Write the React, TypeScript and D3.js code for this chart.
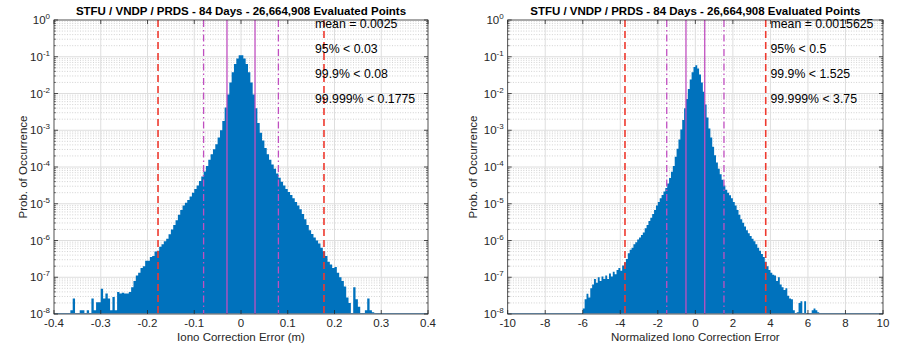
import * as d3 from 'd3';

const titleText = 'STFU / VNDP / PRDS - 84 Days - 26,664,908 Evaluated Points';
const yLabelText = 'Prob. of Occurrence';
const yTickExponents = [0, -1, -2, -3, -4, -5, -6, -7, -8];

// left panel: iono correction error in metres
const errTicks = [-0.4, -0.3, -0.2, -0.1, 0, 0.1, 0.2, 0.3, 0.4];
const errTickLabels = ['-0.4', '-0.3', '-0.2', '-0.1', '0', '0.1', '0.2', '0.3', '0.4'];
const errBinStart = -0.365;
const errBinWidth = 0.005;
// log10 of probability per bin, null = empty bin
const errLogProb: (number | null)[] = [
  -7.9, -7.58, null, null, -7.9, -7.9, null, -7.9, null, -7.58,
  -7.9, -7.68, -7.68, -7.31, -7.58, -7.44, -7.58, -7.9, -7.54, -7.9,
  -7.4, -7.44, -7.42, -7.44, -7.44, -7.4, -7.27, -7.1, -6.95, -6.88,
  -6.75, -6.7, -6.55, -6.55, -6.45, -6.42, -6.3, -6.28, -6.17, -6.1,
  -6.02, -5.95, -5.83, -5.7, -5.58, -5.45, -5.3, -5.17, -5.05, -4.97,
  -4.9, -4.8, -4.7, -4.6, -4.5, -4.38, -4.26, -4.12, -3.97, -3.8,
  -3.65, -3.52, -3.38, -3.2, -3.0, -2.75, -2.38, -2.03, -1.7, -1.42,
  -1.2, -1.05, -0.96,
  -0.96, -1.05, -1.2, -1.42, -1.7, -2.03, -2.4, -2.8, -3.07, -3.28,
  -3.48, -3.65, -3.8, -3.93, -4.05, -4.18, -4.29, -4.4, -4.5, -4.6,
  -4.68, -4.76, -4.85, -4.95, -5.05, -5.15, -5.28, -5.42, -5.58, -5.72,
  -5.82, -5.92, -6.0, -6.08, -6.2, -6.3, -6.42, -6.58, -6.65, -6.75,
  -6.72, -6.88, -7.0, -7.1, -7.25, -7.55, -7.7, null, -7.27, -7.6,
  -7.8, null, null, -7.9, -7.58, -7.9, -7.95,
];
const errSolid = [-0.03, 0.03];
const errDashDot = [-0.08, 0.08];
const errDashed = [-0.1775, 0.1775];
const errNotes = ['mean = 0.0025', '95% < 0.03', '99.9% < 0.08', '99.999% < 0.1775'];

// right panel: normalized error
const normTicks = [-10, -8, -6, -4, -2, 0, 2, 4, 6, 8, 10];
const normTickLabels = ['-10', '-8', '-6', '-4', '-2', '0', '2', '4', '6', '8', '10'];
const normBinStart = -6.0;
const normBinWidth = 0.1;
const normLogProb: (number | null)[] = [
  -7.85, -7.6, -7.45, -7.55, -7.3, -7.2, -7.05, -7.15, -7.0, -7.1,
  -6.98, -7.05, -6.95, -7.05, -6.9, -6.98, -6.85, -6.92, -6.8, -6.75,
  -6.82, -6.68, -6.6, -6.5, -6.35, -6.25, -6.2, -6.1, -6.05, -5.97,
  -5.92, -5.85, -5.78, -5.67, -5.58, -5.47, -5.38, -5.28, -5.17, -5.05,
  -4.95, -4.85, -4.76, -4.67, -4.57, -4.45, -4.3, -4.13, -3.97, -3.72,
  -3.5, -3.25, -2.98, -2.72, -2.4, -2.15, -1.88, -1.62, -1.42, -1.28,
  -1.23, -1.32, -1.48, -1.7, -1.95, -2.3, -2.65, -2.95, -3.2, -3.45,
  -3.68, -3.88, -4.05, -4.2, -4.35, -4.5, -4.62, -4.7, -4.77, -4.85,
  -4.95, -5.05, -5.17, -5.3, -5.42, -5.52, -5.62, -5.72, -5.8, -5.88,
  -5.95, -6.02, -6.1, -6.2, -6.28, -6.37, -6.45, -6.58, -6.7, -6.8,
  -6.88, -6.93, -6.95, -7.1, -7.0, -7.2, -7.27, -7.35, -7.3, -7.5,
  -7.58, -7.6, -7.9, null, -7.95, -7.7, -7.65, null, -7.65, null,
  null, null, -7.9, -7.85, -7.9, -7.95,
];
const normSolid = [-0.5, 0.5];
const normDashDot = [-1.525, 1.525];
const normDashed = [-3.75, 3.75];
const normNotes = ['mean = 0.0015625', '95% < 0.5', '99.9% < 1.525', '99.999% < 3.75'];

const FONT = '"Liberation Sans", Arial, Helvetica, sans-serif';
const AXIS = '#262626';
const BAR = '#0072BD';
const RED = '#ee3a2f';
const MAG = '#c04fc0';

interface PanelProps {
  x0: number;
  x1: number;
  domain: [number, number];
  ticks: number[];
  tickLabels: string[];
  binStart: number;
  binWidth: number;
  logProb: (number | null)[];
  solid: number[];
  dashDot: number[];
  dashed: number[];
  notes: string[];
  notesX: number;
  xLabel: string;
  yLabelX: number;
  clipId: string;
}

function Panel(props: PanelProps) {
  const { x0, x1, domain, ticks, tickLabels, binStart, binWidth, logProb, solid, dashDot, dashed, notes, notesX, xLabel, yLabelX, clipId } = props;
  const y0 = 20;
  const y1 = 314;
  const x = d3.scaleLinear().domain(domain).range([x0, x1]);
  const y = d3.scaleLog().domain([1e-8, 1]).range([y1, y0]);

  const pts = logProb.map((e, i) => ({ v: binStart + i * binWidth, p: e === null ? 1e-8 : Math.pow(10, e) }));
  pts.push({ v: binStart + logProb.length * binWidth, p: 1e-8 });
  const area = d3
    .area<{ v: number; p: number }>()
    .x((d) => x(d.v))
    .y0(y1)
    .y1((d) => y(d.p))
    .curve(d3.curveStepAfter);

  const minor: number[] = [];
  for (let k = -8; k < 0; k++) {
    for (let m = 2; m <= 9; m++) minor.push(m * Math.pow(10, k));
  }
  const cx = (x0 + x1) / 2;

  return (
    <g fontFamily={FONT}>
      <defs>
        <clipPath id={clipId}>
          <rect x={x0} y={y0} width={x1 - x0} height={y1 - y0} />
        </clipPath>
      </defs>
      {/* grid */}
      {minor.map((m, i) => (
        <line key={'mg' + i} x1={x0} x2={x1} y1={y(m)} y2={y(m)} stroke="#c6c6c6" strokeWidth={0.8} strokeDasharray="1 1.6" />
      ))}
      {yTickExponents.slice(1, -1).map((e) => (
        <line key={'yg' + e} x1={x0} x2={x1} y1={y(Math.pow(10, e))} y2={y(Math.pow(10, e))} stroke="#dedede" strokeWidth={1} />
      ))}
      {ticks.slice(1, -1).map((t) => (
        <line key={'xg' + t} x1={x(t)} x2={x(t)} y1={y0} y2={y1} stroke="#dedede" strokeWidth={1} />
      ))}

      {/* histogram */}
      <path d={area(pts) || ''} fill={BAR} clipPath={`url(#${clipId})`} />
      <line x1={x0} x2={x1} y1={y1 - 0.5} y2={y1 - 0.5} stroke="#7fb3de" strokeWidth={1} />

      {/* bounds */}
      {solid.map((v) => (
        <line key={'s' + v} x1={x(v)} x2={x(v)} y1={y0} y2={y1} stroke={MAG} strokeWidth={1.3} />
      ))}
      {dashDot.map((v) => (
        <line key={'dd' + v} x1={x(v)} x2={x(v)} y1={y0} y2={y1} stroke={MAG} strokeWidth={1.3} strokeDasharray="7 3 1.5 3" />
      ))}
      {dashed.map((v) => (
        <line key={'d' + v} x1={x(v)} x2={x(v)} y1={y0} y2={y1} stroke={RED} strokeWidth={1.6} strokeDasharray="7 4" />
      ))}

      {/* box and ticks */}
      <rect x={x0} y={y0} width={x1 - x0} height={y1 - y0} fill="none" stroke={AXIS} strokeWidth={0.8} />
      {ticks.map((t) => (
        <g key={'xt' + t}>
          <line x1={x(t)} x2={x(t)} y1={y1} y2={y1 - 4} stroke={AXIS} strokeWidth={0.8} />
          <line x1={x(t)} x2={x(t)} y1={y0} y2={y0 + 4} stroke={AXIS} strokeWidth={0.8} />
        </g>
      ))}
      {yTickExponents.map((e) => (
        <g key={'yt' + e}>
          <line x1={x0} x2={x0 + 4} y1={y(Math.pow(10, e))} y2={y(Math.pow(10, e))} stroke={AXIS} strokeWidth={0.8} />
          <line x1={x1} x2={x1 - 4} y1={y(Math.pow(10, e))} y2={y(Math.pow(10, e))} stroke={AXIS} strokeWidth={0.8} />
        </g>
      ))}
      {minor.map((m, i) => (
        <g key={'mt' + i}>
          <line x1={x0} x2={x0 + 2} y1={y(m)} y2={y(m)} stroke={AXIS} strokeWidth={0.6} />
          <line x1={x1} x2={x1 - 2} y1={y(m)} y2={y(m)} stroke={AXIS} strokeWidth={0.6} />
        </g>
      ))}

      {/* tick labels */}
      {ticks.map((t, i) => (
        <text key={'xl' + t} x={x(t)} y={327} textAnchor="middle" fontSize={11.5} fill={AXIS}>
          {tickLabels[i]}
        </text>
      ))}
      {yTickExponents.map((e) => (
        <text key={'yl' + e} x={x0 - 4} y={y(Math.pow(10, e)) + 4} textAnchor="end" fontSize={11.5} fill={AXIS}>
          10<tspan dy={-5} fontSize={8}>{String(e)}</tspan>
        </text>
      ))}

      {/* labels */}
      <text x={cx} y={341} textAnchor="middle" fontSize={11.5} fill={AXIS}>
        {xLabel}
      </text>
      <text transform={`translate(${yLabelX},${(y0 + y1) / 2}) rotate(-90)`} textAnchor="middle" fontSize={11.5} fill={AXIS}>
        {yLabelText}
      </text>
      <text x={cx} y={15} textAnchor="middle" fontSize={11.5} fontWeight="bold" fill="#000">
        {titleText}
      </text>

      {notes.map((n, i) => (
        <text key={'n' + i} x={notesX} y={28 + i * 25} fontSize={12.3} fill="#000">
          {n}
        </text>
      ))}
    </g>
  );
}

export default function App() {
  return (
    <svg
      width={900}
      height={354}
      viewBox="0 0 900 354"
      style={{ position: 'absolute', left: 0, top: 0, display: 'block', background: '#fff' }}
    >
      <rect width={900} height={354} fill="#fff" />
      <Panel
        x0={54}
        x1={428}
        domain={[-0.4, 0.4]}
        ticks={errTicks}
        tickLabels={errTickLabels}
        binStart={errBinStart}
        binWidth={errBinWidth}
        logProb={errLogProb}
        solid={errSolid}
        dashDot={errDashDot}
        dashed={errDashed}
        notes={errNotes}
        notesX={315}
        xLabel="Iono Correction Error (m)"
        yLabelX={27}
        clipId="clipL"
      />
      <Panel
        x0={507.7}
        x1={883}
        domain={[-10, 10]}
        ticks={normTicks}
        tickLabels={normTickLabels}
        binStart={normBinStart}
        binWidth={normBinWidth}
        logProb={normLogProb}
        solid={normSolid}
        dashDot={normDashDot}
        dashed={normDashed}
        notes={normNotes}
        notesX={770.5}
        xLabel="Normalized Iono Correction Error"
        yLabelX={477}
        clipId="clipR"
      />
    </svg>
  );
}
